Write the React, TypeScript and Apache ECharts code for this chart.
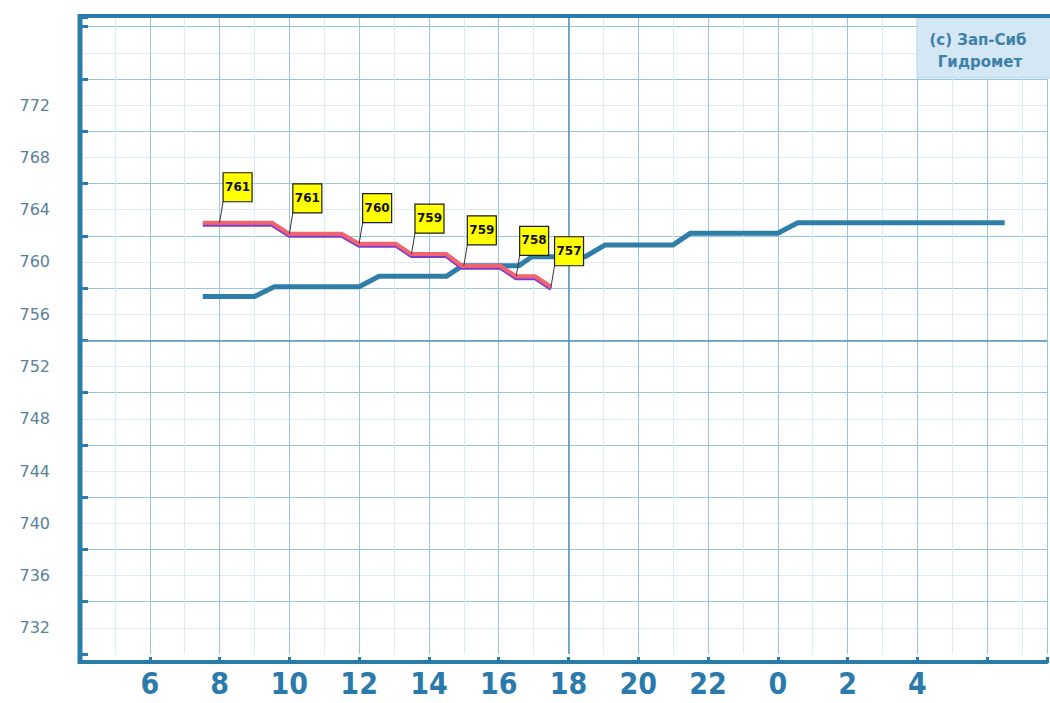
import React, { useEffect, useRef } from 'react';
import * as echarts from 'echarts';

// ---- tick labels ----
const hourTicks = [6, 8, 10, 12, 14, 16, 18, 20, 22, 24, 26, 28];
const hourLabels = ['6', '8', '10', '12', '14', '16', '18', '20', '22', '0', '2', '4'];
const pressureLabels = [772, 768, 764, 760, 756, 752, 748, 744, 740, 736, 732];

// ---- blue series (hour, value) ----
const blueHours = [7.52, 9.0, 9.57, 12.0, 12.57, 14.5, 14.95, 16.57, 16.95, 18.48, 19.05, 21.0, 21.5, 24.0, 24.57, 30.5];
const blueValues = [757.35, 757.35, 758.1, 758.1, 758.9, 758.9, 759.7, 759.7, 760.4, 760.4, 761.3, 761.3, 762.2, 762.2, 763.0, 763.0];

// ---- red series (hour, value) ----
const redHours = [7.52, 9.5, 10.0, 11.5, 12.0, 13.05, 13.5, 14.5, 14.95, 16.05, 16.5, 17.05, 17.5];
const redValues = [763.0, 763.0, 762.15, 762.15, 761.4, 761.4, 760.6, 760.6, 759.7, 759.7, 758.9, 758.9, 758.1];

// ---- yellow flags ----
const flagHours = [8, 10, 12, 13.5, 15, 16.5, 17.5];
const flagValues = [763.0, 762.15, 761.4, 760.6, 759.7, 758.9, 758.1];
const flagTexts = ['761', '761', '760', '759', '759', '758', '757'];

const nowHour = 18;
const refLevel = 754;

const FRAME = '#2b7cab';
const MAJOR = '#96c7de';
const MINOR = '#dcebf4';

export default function App() {
  const ref = useRef<HTMLDivElement>(null);

  useEffect(() => {
    if (!ref.current) return;
    const chart = echarts.init(ref.current, undefined, { renderer: 'svg' });

    const option: any = {
      animation: false,
      backgroundColor: '#ffffff',
      grid: { left: 80, right: 0, top: 17, bottom: 49, containLabel: false },
      xAxis: {
        type: 'value',
        min: 4,
        max: 31.714,
        interval: 2,
        offset: 8,
        axisLine: { show: true, lineStyle: { color: FRAME, width: 4 } },
        axisTick: { show: true, inside: true, length: 5, lineStyle: { color: FRAME, width: 3 } },
        axisLabel: {
          formatter: (v: number) => {
            const i = hourTicks.indexOf(v);
            return i >= 0 ? hourLabels[i] : '';
          },
          color: '#2a7aab',
          fontFamily: '"DejaVu Sans Condensed", sans-serif',
          fontWeight: 'bold',
          fontSize: 30,
          margin: 6,
        },
        splitLine: { show: true, lineStyle: { color: MAJOR, width: 1 } },
        minorTick: { show: false, splitNumber: 2 },
        minorSplitLine: { show: true, lineStyle: { color: MINOR, width: 1 } },
      },
      yAxis: [
        {
          type: 'value',
          min: 730,
          max: 778.742,
          interval: 2,
          axisLine: { show: false },
          axisTick: { show: false },
          axisLabel: {
            formatter: (v: number) => (pressureLabels.includes(v) ? String(v) : ''),
            color: '#5a8199',
            fontSize: 16,
            fontFamily: '"DejaVu Sans", sans-serif',
            margin: 30,
          },
          splitLine: {
            show: true,
            showMinLine: false,
            showMaxLine: false,
            lineStyle: { color: [MINOR, MAJOR], width: 1 },
          },
        },
        {
          type: 'value',
          min: 730,
          max: 778.742,
          interval: 4,
          position: 'left',
          axisLine: { show: false },
          axisTick: { show: true, inside: true, length: 8, lineStyle: { color: FRAME, width: 3 } },
          axisLabel: { show: false },
          splitLine: { show: false },
        },
      ],
      series: [
        {
          type: 'line',
          yAxisIndex: 0,
          data: blueHours.map((h, i) => [h, blueValues[i]]),
          symbol: 'none',
          lineStyle: { color: '#2f7ea8', width: 5 },
          z: 3,
          markLine: {
            silent: true,
            symbol: ['none', 'none'],
            z: 1,
            label: { show: false },
            lineStyle: { color: '#5596be', width: 1.5, type: 'solid' },
            data: [{ xAxis: nowHour }, { yAxis: refLevel }],
          },
        },
        {
          type: 'line',
          yAxisIndex: 0,
          data: redHours.map((h, i) => [h, redValues[i]]),
          symbol: 'none',
          lineStyle: {
            color: '#f2646f',
            width: 4,
            shadowColor: '#7a3cc8',
            shadowOffsetY: 2,
            shadowBlur: 0,
          },
          z: 4,
        },
        {
          type: 'custom',
          yAxisIndex: 0,
          z: 6,
          clip: false,
          data: flagHours.map((h, i) => [h, flagValues[i]]),
          renderItem: (params: any, api: any) => {
            const p = api.coord([api.value(0), api.value(1)]);
            const text = flagTexts[params.dataIndex];
            return {
              type: 'group',
              children: [
                {
                  type: 'line',
                  shape: { x1: p[0], y1: p[1], x2: p[0] + 3.5, y2: p[1] - 21 },
                  style: { stroke: '#333333', lineWidth: 1 },
                },
                {
                  type: 'rect',
                  shape: { x: p[0] + 3.5, y: p[1] - 50, width: 29, height: 29 },
                  style: { fill: '#ffff00', stroke: '#1a1a1a', lineWidth: 1.2 },
                },
                {
                  type: 'text',
                  style: {
                    text,
                    x: p[0] + 18,
                    y: p[1] - 36,
                    align: 'center',
                    verticalAlign: 'middle',
                    fill: '#111111',
                    font: 'bold 12px "DejaVu Sans", sans-serif',
                  },
                },
              ],
            };
          },
        },
      ],
      graphic: [
        {
          type: 'line',
          z: 100,
          shape: { x1: 80, y1: 14.5, x2: 80, y2: 664 },
          style: { stroke: FRAME, lineWidth: 5 },
        },
        {
          type: 'line',
          z: 100,
          shape: { x1: 78, y1: 16, x2: 1050, y2: 16 },
          style: { stroke: FRAME, lineWidth: 4 },
        },
        {
          type: 'rect',
          z: 99,
          shape: { x: 917, y: 18, width: 135, height: 60 },
          style: { fill: '#d3e7f4', stroke: '#b3d5e8', lineWidth: 1 },
        },
        {
          type: 'text',
          z: 101,
          style: {
            text: '(c) Зап-Сиб',
            x: 978,
            y: 40,
            align: 'center',
            verticalAlign: 'middle',
            fill: '#3e80a8',
            font: 'bold 15px "DejaVu Sans", sans-serif',
          },
        },
        {
          type: 'text',
          z: 101,
          style: {
            text: 'Гидромет',
            x: 980,
            y: 62,
            align: 'center',
            verticalAlign: 'middle',
            fill: '#3e80a8',
            font: 'bold 15px "DejaVu Sans", sans-serif',
          },
        },
      ],
    };

    chart.setOption(option);
    return () => {
      chart.dispose();
    };
  }, []);

  return (
    <div
      ref={ref}
      style={{ position: 'fixed', left: 0, top: 0, width: 1050, height: 703 }}
    />
  );
}
